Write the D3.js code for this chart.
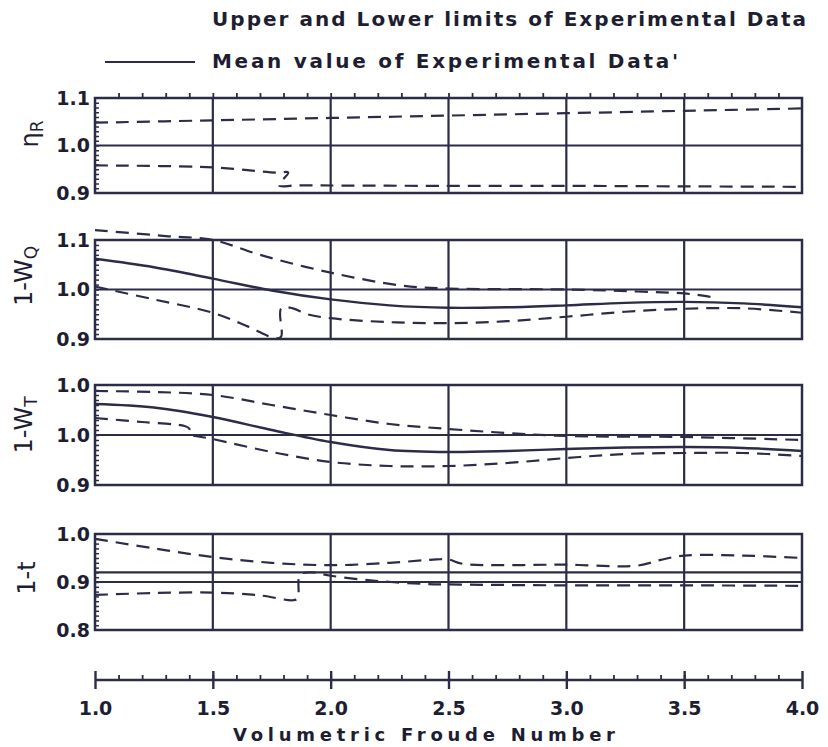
<!DOCTYPE html>
<html>
<head>
<meta charset="utf-8">
<script src="https://cdn.jsdelivr.net/npm/d3@7"></script>
<style>
  body { margin: 0; background: #fff; }
  svg text { font-family: "DejaVu Sans", sans-serif; fill: #1e1e32; }
</style>
</head>
<body>
<div id="chart"></div>
<script>
// values: [Froude number, value]
let froudeTicks = [1.0, 1.5, 2.0, 2.5, 3.0, 3.5, 4.0];
let froudeLabels = ["1.0", "1.5", "2.0", "2.5", "3.0", "3.5", "4.0"];

// eta R
let etaTicks = [0.9, 1.0, 1.1];
let etaLabels = ["0.9", "1.0", "1.1"];
let etaUpper = [[1.0,1.048],[1.5,1.053],[2.0,1.058],[2.5,1.063],[3.0,1.068],[3.5,1.073],[4.0,1.078]];
let etaLower = [[1.0,0.958],[1.5,0.954],[1.77,0.943],[1.82,0.943],[1.78,0.916],[1.86,0.916],[2.5,0.915],[3.0,0.915],[3.5,0.914],[4.0,0.913]];

// 1-wQ
let wqTicks = [0.9, 1.0, 1.1];
let wqLabels = ["0.9", "1.0", "1.1"];
let wqUpper = [[1.0,1.12],[1.3,1.108],[1.5,1.10],[1.7,1.07],[2.0,1.034],[2.3,1.008],[2.5,1.002],[3.0,1.0],[3.3,0.996],[3.5,0.992],[3.6,0.986],[3.62,0.984]];
let wqMean = [[1.0,1.062],[1.25,1.045],[1.5,1.022],[1.75,0.998],[2.0,0.98],[2.25,0.968],[2.5,0.963],[2.75,0.964],[3.0,0.968],[3.25,0.973],[3.5,0.975],[3.75,0.972],[4.0,0.964]];
let wqLower = [[1.0,1.006],[1.25,0.98],[1.5,0.953],[1.65,0.925],[1.77,0.901],[1.79,0.905],[1.79,0.962],[1.84,0.962],[1.9,0.95],[2.0,0.942],[2.25,0.934],[2.5,0.932],[2.75,0.936],[3.0,0.945],[3.25,0.955],[3.5,0.961],[3.75,0.962],[4.0,0.953]];

// 1-wT
let wtTicks = [0.9, 1.0, 1.1];
let wtLabels = ["0.9", "1.0", "1.0"];
let wtUpper = [[1.0,1.088],[1.25,1.086],[1.5,1.08],[1.75,1.06],[2.0,1.04],[2.25,1.022],[2.5,1.012],[2.75,1.004],[3.0,0.998],[3.5,0.996],[4.0,0.99]];
let wtMean = [[1.0,1.062],[1.25,1.055],[1.5,1.036],[1.75,1.01],[2.0,0.986],[2.25,0.97],[2.5,0.966],[2.75,0.968],[3.0,0.972],[3.25,0.975],[3.5,0.976],[3.75,0.974],[4.0,0.968]];
let wtLower = [[1.0,1.034],[1.2,1.026],[1.38,1.018],[1.4,1.013],[1.4,1.003],[1.5,0.992],[1.75,0.966],[2.0,0.946],[2.25,0.938],[2.5,0.938],[2.75,0.944],[3.0,0.954],[3.25,0.962],[3.5,0.964],[3.75,0.964],[4.0,0.958]];

// 1-t
let tTicks = [0.8, 0.9, 1.0];
let tLabels = ["0.8", "0.9", "1.0"];
let tUpper = [[1.0,0.99],[1.25,0.97],[1.5,0.952],[1.75,0.94],[2.0,0.935],[2.25,0.94],[2.45,0.947],[2.5,0.947],[2.56,0.938],[3.0,0.936],[3.3,0.934],[3.4,0.946],[3.5,0.955],[3.75,0.955],[4.0,0.95]];
let tMean = [[1.0,0.92],[4.0,0.92]];
let tLower = [[1.0,0.873],[1.25,0.877],[1.5,0.878],[1.7,0.872],[1.84,0.862],[1.86,0.866],[1.87,0.915],[1.92,0.92],[2.0,0.913],[2.2,0.902],[2.4,0.896],[2.5,0.895],[3.0,0.893],[3.5,0.893],[4.0,0.892]];

let ink = "#2c2c48";
let width = 828, height = 747;

let svg = d3.select("#chart").append("svg")
  .attr("width", width)
  .attr("height", height);

let x = d3.scaleLinear().domain([1, 4]).range([95, 802]);

// legend
svg.append("text")
  .attr("x", 212).attr("y", 26)
  .attr("font-size", 20).attr("font-weight", "bold")
  .attr("textLength", 594).attr("lengthAdjust", "spacing")
  .text("Upper and Lower limits of Experimental Data");
svg.append("line")
  .attr("x1", 105).attr("x2", 195).attr("y1", 62).attr("y2", 62)
  .attr("stroke", ink).attr("stroke-width", 2.2);
svg.append("text")
  .attr("x", 212).attr("y", 68)
  .attr("font-size", 20).attr("font-weight", "bold")
  .attr("textLength", 466).attr("lengthAdjust", "spacing")
  .text("Mean value of Experimental Data'");

function drawPanel(p) {
  let y = d3.scaleLinear().domain([p.ticks[0], p.ticks[2]]).range([p.bottom, p.top]);
  let g = svg.append("g");

  // frame
  g.append("rect")
    .attr("x", x(1)).attr("y", p.top)
    .attr("width", x(4) - x(1)).attr("height", p.bottom - p.top)
    .attr("fill", "none").attr("stroke", ink).attr("stroke-width", 2.5);

  // grid
  g.selectAll(".vgrid").data(froudeTicks.slice(1, -1)).enter().append("line")
    .attr("x1", d => x(d)).attr("x2", d => x(d))
    .attr("y1", p.top).attr("y2", p.bottom)
    .attr("stroke", ink).attr("stroke-width", 2.2);
  g.append("line")
    .attr("x1", x(1)).attr("x2", x(4))
    .attr("y1", y(p.ticks[1])).attr("y2", y(p.ticks[1]))
    .attr("stroke", ink).attr("stroke-width", 2.2);

  // small inward ticks on the left edge
  let minor = d3.range(1, 20).map(i => p.ticks[0] + i * (p.ticks[2] - p.ticks[0]) / 20);
  let minorAxis = g.append("g")
    .attr("transform", "translate(" + x(1) + ",0)")
    .call(d3.axisRight(y).tickValues(minor).tickSize(4).tickFormat(""));
  minorAxis.select(".domain").remove();
  minorAxis.selectAll("line").attr("stroke", ink).attr("stroke-width", 1.5);

  // tick labels
  let lab = g.append("g")
    .attr("transform", "translate(" + x(1) + ",0)")
    .call(d3.axisLeft(y).tickValues(p.ticks).tickSize(0).tickPadding(5)
      .tickFormat((d, i) => p.labels[i]));
  lab.select(".domain").remove();
  lab.selectAll("text")
    .attr("font-size", 19).attr("font-weight", "bold")
    .attr("font-family", "DejaVu Sans").attr("fill", "#1e1e32");

  if (p.topTicks) {
    let tt = g.append("g")
      .attr("transform", "translate(0," + p.top + ")")
      .call(d3.axisTop(x).tickValues(d3.range(1, 30).map(i => 1 + i * 0.1)).tickSize(5).tickFormat(""));
    tt.select(".domain").remove();
    tt.selectAll("line").attr("stroke", ink).attr("stroke-width", 1.8);
  }

  // curves
  let line = d3.line().x(d => x(d[0])).y(d => y(d[1])).curve(d3.curveCatmullRom.alpha(0.5));
  p.dashed.forEach(s => {
    g.append("path").datum(s)
      .attr("d", line)
      .attr("fill", "none").attr("stroke", ink).attr("stroke-width", 2.2)
      .attr("stroke-dasharray", "13,8");
  });
  p.solid.forEach(s => {
    g.append("path").datum(s)
      .attr("d", line)
      .attr("fill", "none").attr("stroke", ink).attr("stroke-width", 2.4);
  });

  // y label
  let t = svg.append("text")
    .attr("transform", "translate(" + p.lx + "," + p.ly + ") rotate(-90)")
    .attr("text-anchor", "middle").attr("dominant-baseline", "central")
    .attr("font-size", 24);
  t.append("tspan").text(p.label);
  t.append("tspan").attr("font-size", 17).attr("dy", 7).text(p.sub);
}

drawPanel({top: 98, bottom: 193, ticks: etaTicks, labels: etaLabels, topTicks: true,
  dashed: [etaUpper, etaLower], solid: [], label: "\u03b7", sub: "R", lx: 30, ly: 134});
drawPanel({top: 240, bottom: 339, ticks: wqTicks, labels: wqLabels,
  dashed: [wqUpper, wqLower], solid: [wqMean], label: "1-W", sub: "Q", lx: 24, ly: 276});
drawPanel({top: 385, bottom: 485, ticks: wtTicks, labels: wtLabels,
  dashed: [wtUpper, wtLower], solid: [wtMean], label: "1-W", sub: "T", lx: 24, ly: 425});
drawPanel({top: 534, bottom: 630, ticks: tTicks, labels: tLabels,
  dashed: [tUpper, tLower], solid: [tMean], label: "1-t", sub: "", lx: 27, ly: 578});

// bottom Froude axis
let axisY = 680;
let minorAx = svg.append("g")
  .attr("transform", "translate(0," + axisY + ")")
  .call(d3.axisBottom(x).tickValues(d3.range(1, 30).map(i => 1 + i * 0.1)).tickSize(-5).tickFormat(""));
minorAx.select(".domain").remove();
minorAx.selectAll("line").attr("stroke", ink).attr("stroke-width", 1.8);

let majorAx = svg.append("g")
  .attr("transform", "translate(0," + axisY + ")")
  .call(d3.axisBottom(x).tickValues(froudeTicks).tickSize(8).tickSizeOuter(0).tickPadding(14)
    .tickFormat((d, i) => froudeLabels[i]));
majorAx.select(".domain").attr("stroke", ink).attr("stroke-width", 2.4).attr("d", "M" + x(1) + ",0H" + x(4));
majorAx.selectAll("line").attr("y1", -9).attr("y2", 9).attr("stroke", ink).attr("stroke-width", 2.4);
majorAx.selectAll("text")
  .attr("font-size", 19).attr("font-weight", "bold")
  .attr("font-family", "DejaVu Sans").attr("fill", "#1e1e32");

svg.append("text")
  .attr("x", 233).attr("y", 741)
  .attr("font-size", 18).attr("font-weight", "bold")
  .attr("textLength", 382).attr("lengthAdjust", "spacing")
  .text("Volumetric  Froude  Number");
</script>
</body>
</html>
